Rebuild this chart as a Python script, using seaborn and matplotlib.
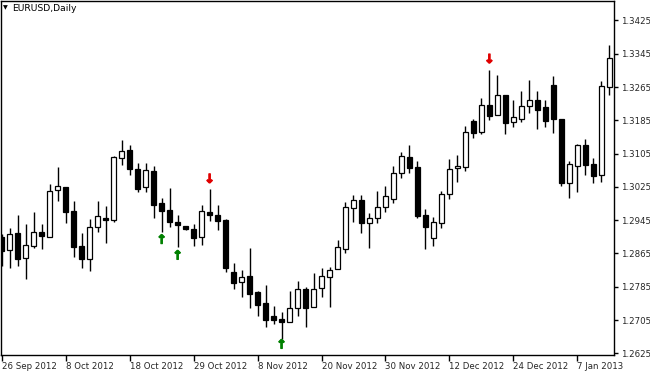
import matplotlib
matplotlib.use("Agg")
import matplotlib.pyplot as plt
import matplotlib.patheffects as pe
import numpy as np
import pandas as pd
import seaborn as sns

# ---------------- data ----------------
opens = [1.2904, 1.2873, 1.2914, 1.2854, 1.2883, 1.2916, 1.2904, 1.3017, 1.3024, 1.2967,
         1.2883, 1.2851, 1.2928, 1.2950, 1.2945, 1.3094, 1.3113, 1.3067, 1.3024, 1.3063,
         1.2986, 1.2969, 1.2940, 1.2931, 1.2923, 1.2904, 1.2964, 1.2957, 1.2945, 1.2820,
         1.2796, 1.2811, 1.2772, 1.2746, 1.2715, 1.2707, 1.2700, 1.2734, 1.2779, 1.2736,
         1.2782, 1.2808, 1.2827, 1.2875, 1.2974, 1.2993, 1.2938, 1.2950, 1.2976, 1.2995,
         1.3058, 1.3096, 1.3072, 1.2957, 1.2902, 1.2938, 1.3007, 1.3070, 1.3072, 1.3183,
         1.3156, 1.3223, 1.3199, 1.3245, 1.3180, 1.3187, 1.3219, 1.3233, 1.3216, 1.3271,
         1.3187, 1.3034, 1.3075, 1.3125, 1.3079, 1.3053, 1.3264]
highs = [1.2911, 1.2926, 1.2957, 1.2935, 1.2964, 1.2935, 1.3031, 1.3072, 1.3024, 1.2991,
         1.2914, 1.2947, 1.2991, 1.2979, 1.3099, 1.3137, 1.3125, 1.3082, 1.3082, 1.3075,
         1.2998, 1.3022, 1.2957, 1.2932, 1.2935, 1.2981, 1.3019, 1.2981, 1.2947, 1.2842,
         1.2825, 1.2878, 1.2775, 1.2789, 1.2739, 1.2724, 1.2775, 1.2799, 1.2784, 1.2818,
         1.2830, 1.2832, 1.2897, 1.2988, 1.3005, 1.3005, 1.2962, 1.3015, 1.3027, 1.3075,
         1.3108, 1.3125, 1.3087, 1.2971, 1.2952, 1.3015, 1.3091, 1.3101, 1.3171, 1.3187,
         1.3238, 1.3307, 1.3293, 1.3245, 1.3233, 1.3255, 1.3281, 1.3255, 1.3235, 1.3291,
         1.3187, 1.3087, 1.3127, 1.3139, 1.3094, 1.3279, 1.3365]
lows = [1.2835, 1.2830, 1.2835, 1.2803, 1.2878, 1.2875, 1.2904, 1.2991, 1.2938, 1.2856,
        1.2830, 1.2823, 1.2916, 1.2890, 1.2940, 1.3077, 1.3053, 1.3012, 1.3012, 1.2950,
        1.2916, 1.2928, 1.2880, 1.2921, 1.2883, 1.2885, 1.2943, 1.2921, 1.2820, 1.2779,
        1.2760, 1.2734, 1.2715, 1.2688, 1.2695, 1.2659, 1.2700, 1.2715, 1.2688, 1.2736,
        1.2760, 1.2736, 1.2827, 1.2866, 1.2940, 1.2914, 1.2878, 1.2938, 1.2964, 1.2986,
        1.3046, 1.3058, 1.2950, 1.2875, 1.2883, 1.2926, 1.2995, 1.3036, 1.3063, 1.3142,
        1.3151, 1.3185, 1.3199, 1.3151, 1.3168, 1.3180, 1.3202, 1.3163, 1.3168, 1.3154,
        1.3027, 1.2998, 1.3012, 1.3053, 1.3034, 1.3036, 1.3245]
closes = [1.2871, 1.2911, 1.2851, 1.2885, 1.2916, 1.2907, 1.3015, 1.3027, 1.2964, 1.2880,
          1.2851, 1.2928, 1.2955, 1.2945, 1.3096, 1.3111, 1.3067, 1.3019, 1.3065, 1.2981,
          1.2967, 1.2940, 1.2933, 1.2925, 1.2902, 1.2967, 1.2957, 1.2943, 1.2830, 1.2794,
          1.2808, 1.2767, 1.2741, 1.2705, 1.2705, 1.2700, 1.2734, 1.2779, 1.2734, 1.2779,
          1.2811, 1.2825, 1.2880, 1.2976, 1.2993, 1.2938, 1.2950, 1.2976, 1.3003, 1.3058,
          1.3099, 1.3070, 1.2955, 1.2928, 1.2940, 1.3007, 1.3067, 1.3075, 1.3156, 1.3154,
          1.3223, 1.3195, 1.3245, 1.3178, 1.3192, 1.3219, 1.3233, 1.3211, 1.3183, 1.3187,
          1.3034, 1.3079, 1.3125, 1.3077, 1.3051, 1.3267, 1.3336]

date_labels = ["26 Sep 2012", "8 Oct 2012", "18 Oct 2012", "29 Oct 2012", "8 Nov 2012",
               "20 Nov 2012", "30 Nov 2012", "12 Dec 2012", "24 Dec 2012", "7 Jan 2013"]
label_bars = [0, 8, 16, 24, 32, 40, 48, 56, 64, 72]

price_ticks = [1.2625, 1.2705, 1.2785, 1.2865, 1.2945, 1.3025, 1.3105, 1.3185, 1.3265, 1.3345, 1.3425]

up_bars = [20, 22, 35]
up_prices = [1.2897, 1.2859, 1.2645]
down_bars = [26, 61]
down_prices = [1.3043, 1.3331]

title = "EURUSD,Daily"

# ---------------- plot ----------------
sns.set_style("white")
plt.rcParams["font.family"] = ["DejaVu Sans"]

df = pd.DataFrame({"open": opens, "high": highs, "low": lows, "close": closes})
df["bar"] = np.arange(len(df))
df["bull"] = df["close"] >= df["open"]
df["bottom"] = df[["open", "close"]].min(axis=1)
df["height"] = (df["close"] - df["open"]).abs().clip(lower=0.00008)

W, H = 650, 374
fig = plt.figure(figsize=(W / 100, H / 100), dpi=100)
ax = fig.add_axes([0.5 / W, 19 / H, 613.5 / W, 354.5 / H])

ax.vlines(df["bar"], df["low"], df["high"], color="black", linewidth=1.0, zorder=2)
ax.bar(df["bar"], df["height"], bottom=df["bottom"], width=0.6,
       color=np.where(df["bull"], "white", "black"), edgecolor="black",
       linewidth=0.9, zorder=3)

for b, p in zip(up_bars, up_prices):
    ax.text(b, p, "\u2191", color="#008000", fontsize=9, fontweight="bold",
            ha="center", va="center", zorder=4,
            path_effects=[pe.withStroke(linewidth=0.8, foreground="#008000")])
for b, p in zip(down_bars, down_prices):
    ax.text(b, p, "\u2193", color="#e00000", fontsize=9, fontweight="bold",
            ha="center", va="center", zorder=4,
            path_effects=[pe.withStroke(linewidth=0.8, foreground="#e00000")])

ax.set_xlim(-0.16, 76.59)
ax.set_ylim(1.2621, 1.3473)

for s in ax.spines.values():
    s.set_visible(True)
    s.set_color("black")
    s.set_linewidth(1.0)

ax.yaxis.tick_right()
ax.set_yticks(price_ticks)
ax.set_yticklabels([f"{v:.4f}" for v in price_ticks])
ax.tick_params(axis="y", direction="out", length=3, width=1, color="black",
               labelsize=6.2, pad=2, right=True, left=False)

ax.set_xticks(label_bars)
ax.set_xticklabels(date_labels)
ax.tick_params(axis="x", direction="out", length=4, width=1, color="black",
               labelsize=6.2, pad=1, bottom=True)
for lbl in ax.get_xticklabels():
    lbl.set_horizontalalignment("left")

ax.set_xlabel("")
ax.set_ylabel("")
ax.grid(False)

fig.text(3 / W, 1 - 8 / H, "\u25BC", fontsize=4.5, ha="left", va="center", color="black")
fig.text(12 / W, 1 - 8.5 / H, title, fontsize=6.7, ha="left", va="center", color="black")

fig.savefig("out.png", dpi=100, facecolor="white")
